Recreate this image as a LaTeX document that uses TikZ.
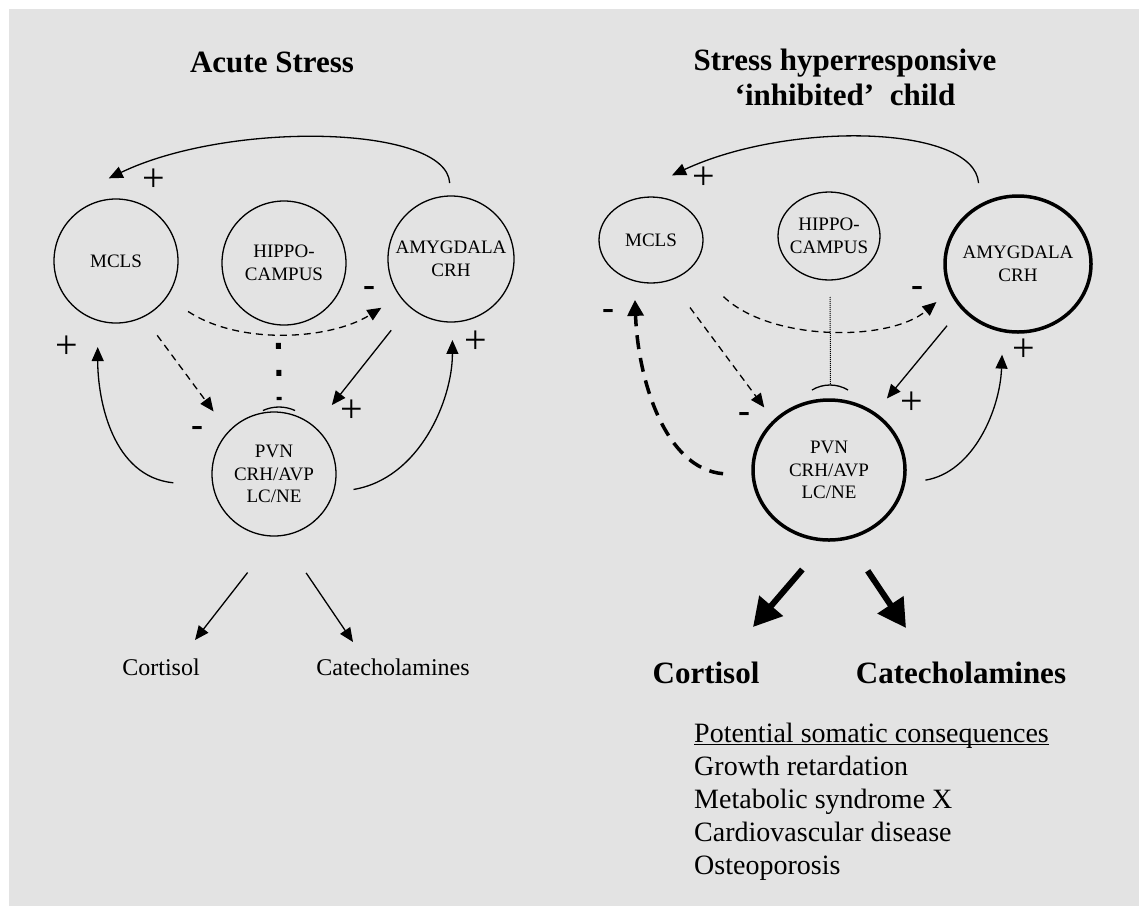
\documentclass[tikz,border=0pt]{standalone}
\usepackage{fontspec}
\setmainfont{Liberation Serif}
\usepackage{tikz}
\usetikzlibrary{arrows.meta,calc,shapes.geometric}
\definecolor{panelgrey}{RGB}{227,227,227}
\tikzset{
  brain/.style={circle, draw, line width=1.3pt, minimum size=124pt, inner sep=0pt, align=center, font=\fontsize{19}{22.5}\selectfont},
  brainoval/.style={ellipse, draw, line width=1.3pt, inner sep=-4pt, align=center, font=\fontsize{19}{22.5}\selectfont},
  line/.style={line width=1.3pt, -{Triangle[length=14pt,width=12pt]}},
  dashline/.style={line, dash pattern=on 7pt off 5pt},
  bigline/.style={line width=6pt, -{Triangle[length=28pt,width=30pt]}},
  plusmark/.style={font=\fontsize{40}{40}\selectfont, inner sep=0pt},
  minusmark/.style={font=\bfseries\fontsize{36}{36}\selectfont, inner sep=0pt},
  heading/.style={font=\bfseries\fontsize{31}{35}\selectfont, anchor=base, inner sep=0pt},
  outtext/.style={font=\fontsize{24}{28}\selectfont, anchor=base, inner sep=0pt},
  bigouttext/.style={font=\bfseries\fontsize{31}{35}\selectfont, anchor=base, inner sep=0pt}
}
\begin{document}
\begin{tikzpicture}[x=1pt, y=-1pt]
  \useasboundingbox (0,0) rectangle (1142,906);
  \fill[panelgrey] (9,9) rectangle (1139,906);

  \node[heading] (t1) at (272,72) {Acute Stress};
  \node[brain] (mcls) at (116,261) {MCLS};
  \node[brain] (hip) at (284,263) {HIPPO-\\CAMPUS};
  \node[brain, minimum size=126pt] (amyg) at (451,259) {AMYGDALA\\CRH};
  \node[brain] (pvn) at (274,474) {PVN\\CRH/AVP\\LC/NE};
  \node[outtext] (cort) at (161,675) {Cortisol};
  \node[outtext] (cat) at (393,675) {Catecholamines};

  \draw[line] ($(amyg.center)+(91:76pt)$) .. controls +(-3,-58) and +(121,-58) .. ($(mcls.center)+(95:83pt)$);
  \draw[dashline] ($(mcls.center)+(-35:88pt)$) .. controls +(52,34) and +(-51,32) .. ($(amyg.center)+(215:85pt)$);
  \draw[dashline] ($(mcls.center)+(-61:85pt)$) -- ($(pvn.center)+(134:87pt)$);
  \draw[line width=5pt, dash pattern=on 6pt off 21pt] ($(hip.center)+(-94:80pt)$) -- ($(pvn.center)+(86:74pt)$);
  \draw[line width=1.3pt] ($(pvn.center)+(5,-29)$) ++(115:38pt) arc[start angle=115, end angle=65, radius=38pt];
  \draw[line] ($(amyg.center)+(230:93pt)$) -- ($(pvn.center)+(50:90pt)$);
  \draw[line] ($(pvn.center)+(185:101pt)$) .. controls +(-61,-6) and +(0,53) .. ($(mcls.center)+(258:88pt)$);
  \draw[line] ($(pvn.center)+(-11:81pt)$) .. controls +(66,-11) and +(0,60) .. ($(amyg.center)+(271:81pt)$);
  \draw[line] ($(pvn.center)+(255:102pt)$) -- ($(cort.base)+(34,-35)$);
  \draw[line] ($(pvn.center)+(288:104pt)$) -- ($(cat.base)+(-40,-33)$);

  \node[plusmark] (p1) at (154,180) {+};
  \node[plusmark] (p2) at (67,347) {+};
  \node[plusmark] (p3) at (476,342) {+};
  \node[plusmark] (p4) at (352,411) {+};
  \node[minusmark] (m1) at (369,291) {-};
  \node[minusmark] (m2) at (197,431) {-};

  \node[heading] (t2a) at (845,70) {Stress hyperresponsive};
  \node[heading] (t2b) at (845,105) {`inhibited'~~child};
  \node[brainoval, minimum width=104pt, minimum height=86pt] (mcls2) at (651,240) {MCLS};
  \node[brainoval, minimum width=102pt, minimum height=88pt] (hip2) at (829,236) {HIPPO-\\CAMPUS};
  \node[brainoval, line width=3.5pt, minimum width=146pt, minimum height=136pt] (amyg2) at (1018,264) {AMYGDALA\\CRH};
  \node[brainoval, line width=3.5pt, minimum width=152pt, minimum height=140pt] (pvn2) at (829,470) {PVN\\CRH/AVP\\LC/NE};
  \node[bigouttext] (cort2) at (706,683) {Cortisol};
  \node[bigouttext] (cat2) at (961,683) {Catecholamines};
  \node[font=\fontsize{28}{33}\selectfont, align=left, anchor=north west, inner sep=0pt] (cons) at (694,723)
    {\underline{\raisebox{0pt}[\height][0pt]{Potential somatic consequences}}\\Growth retardation\\Metabolic syndrome X\\Cardiovascular disease\\Osteoporosis};

  \draw[line] ($(amyg2.center)+(116:90pt)$) .. controls +(-4,-58) and +(118,-55) .. ($(mcls2.center)+(72:68pt)$);
  \draw[dashline] ($(mcls2.center)+(-38:92pt)$) .. controls +(47,45) and +(-47,40) .. ($(amyg2.center)+(205:90pt)$);
  \draw[line width=1pt, densely dotted] ($(hip2.center)+(-89:61pt)$) -- ($(pvn2.center)+(89:85pt)$);
  \draw[line width=1.3pt] ($(pvn2.center)+(1,-50)$) ++(121:35pt) arc[start angle=121, end angle=59, radius=35pt];
  \draw[dashline] ($(mcls2.center)+(-60:78pt)$) -- ($(pvn2.center)+(136:90pt)$);
  \draw[line width=3.5pt, dash pattern=on 14pt off 9pt, -{Triangle[length=16pt,width=16pt]}] ($(pvn2.center)+(182:106pt)$) .. controls +(-58,-5) and +(3,80) .. ($(mcls2.center)+(255:62pt)$);
  \draw[line] ($(amyg2.center)+(221:94pt)$) -- ($(pvn2.center)+(51:92pt)$);
  \draw[line] ($(pvn2.center)+(-6:97pt)$) .. controls +(48,-8) and +(-2,55) .. ($(amyg2.center)+(260:92pt)$);
  \draw[bigline] ($(pvn2.center)+(255:103pt)$) -- ($(cort2.base)+(47,-56)$);
  \draw[bigline] ($(pvn2.center)+(291:108pt)$) -- ($(cat2.base)+(-55,-55)$);

  \node[plusmark] (p5) at (704,178) {+};
  \node[plusmark] (p6) at (912,403) {+};
  \node[plusmark] (p7) at (1024,350) {+};
  \node[minusmark] (m3) at (917,291) {-};
  \node[minusmark] (m4) at (744,417) {-};
  \node[minusmark] (m5) at (608,314) {-};
\end{tikzpicture}
\end{document}
